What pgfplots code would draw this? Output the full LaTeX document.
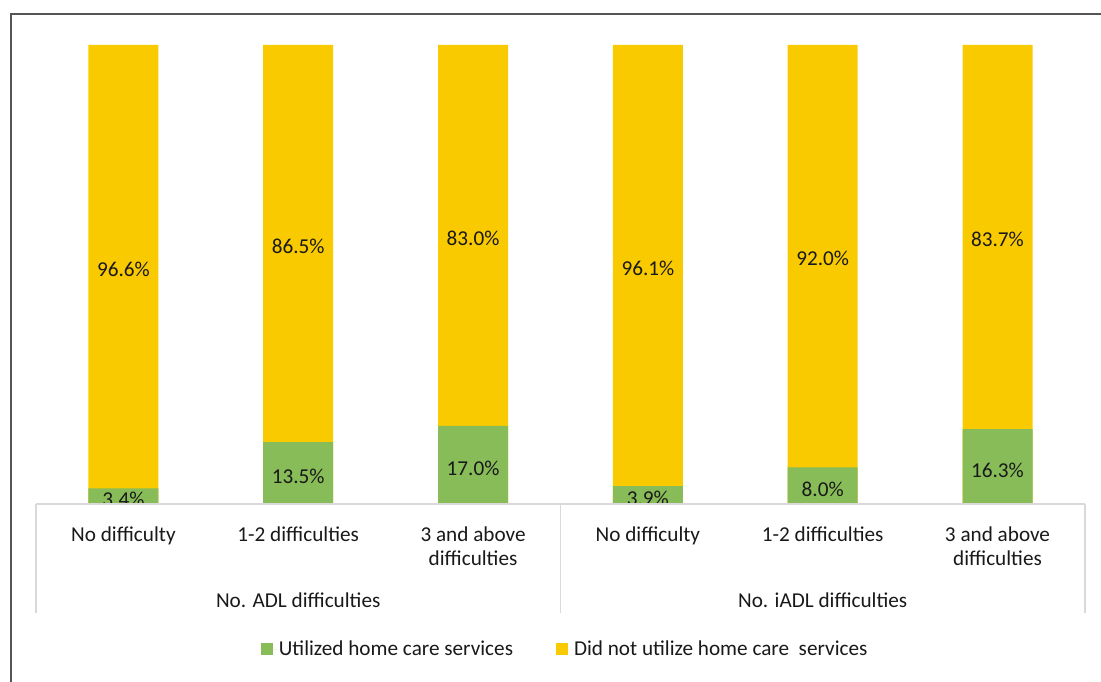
\documentclass[border=0pt]{standalone}
\usepackage{pgfplots}
\pgfplotsset{compat=1.18}
\usepackage{pgfplotstable}
\usepackage{fontspec}
\setmainfont{Carlito}
\definecolor{cgreen}{RGB}{135,188,89}
\definecolor{cyellow}{RGB}{250,202,0}
\definecolor{ctext}{RGB}{25,25,25}
\definecolor{caxis}{RGB}{217,217,217}
\definecolor{cframe}{RGB}{85,85,85}
\pgfplotstableread{
x u n
0 3.4 96.6
1 13.5 86.5
2 17.0 83.0
3 3.9 96.1
4 8.0 92.0
5 16.3 83.7
}\data
\newcommand{\cfont}{\fontsize{21.2}{24}\selectfont}
\begin{document}
\begin{tikzpicture}
\path[use as bounding box] (0pt,0pt) rectangle (1101pt,681pt);
\begin{axis}[
  at={(36pt,177pt)}, anchor=south west,
  width=1049pt, height=459pt, scale only axis,
  xmin=-0.5, xmax=5.5, ymin=0, ymax=100,
  axis x line*=bottom, axis y line=none,
  x axis line style={draw=none},
  ytick=\empty,
  xtick={0,1,2,3,4,5}, major tick length=0pt,
  xticklabels={No difficulty, 1-2 difficulties, {3 and above\\difficulties}, No difficulty, 1-2 difficulties, {3 and above\\difficulties}},
  xticklabel style={align=center, font=\cfont, text=ctext, anchor=north, yshift=-19pt},
  clip=false,
  legend style={at={(0.504,-0.316)}, anchor=center, draw=none, fill=none,
    legend columns=2, font=\cfont, text=ctext,
    /tikz/every even column/.append style={column sep=40pt}},
  legend cell align=left,
  legend image code/.code={\fill[#1] (0pt,-6pt) rectangle (12pt,6pt); \path (-1pt,0pt) -- (16pt,0pt);},
]
\addplot[ybar, bar width=70pt, bar shift=0pt, fill=cyellow, draw=none, forget plot]
  table[x=x, y expr=\thisrow{u}+\thisrow{n}]{\data};
\addplot[ybar, bar width=70pt, bar shift=0pt, fill=cgreen, draw=none, forget plot]
  table[x=x, y=u]{\data};
\addplot[draw=none, mark=none, forget plot, point meta=explicit symbolic,
  nodes near coords={\pgfplotspointmeta\%},
  nodes near coords style={anchor=center, font=\cfont, text=ctext, yshift=-3.5pt}]
  table[x=x, y expr=\thisrow{u}/2, meta=u]{\data};
\addplot[draw=none, mark=none, forget plot, point meta=explicit symbolic,
  nodes near coords={\pgfplotspointmeta\%},
  nodes near coords style={anchor=center, font=\cfont, text=ctext, yshift=-2.5pt}]
  table[x=x, y expr=\thisrow{u}+\thisrow{n}/2, meta=n]{\data};
\addlegendimage{fill=cgreen, draw=none}
\addlegendentry{Utilized home care services}
\addlegendimage{fill=cyellow, draw=none}
\addlegendentry{Did not utilize home care\ \ services}
\node[font=\cfont, text=ctext, anchor=base] at (axis cs:1,0) [yshift=-103pt] {No. ADL difficulties};
\node[font=\cfont, text=ctext, anchor=base] at (axis cs:4,0) [yshift=-103pt] {No. iADL difficulties};
\end{axis}
\fill[white] (36pt,176pt) rectangle (1085pt,166pt);
\draw[caxis, line width=2pt] (36pt,177pt) -- (1085pt,177pt);
\draw[caxis, line width=1.5pt] (36pt,177pt) -- (36pt,68pt);
\draw[caxis, line width=1.5pt] (560.5pt,177pt) -- (560.5pt,68pt);
\draw[caxis, line width=1.5pt] (1085pt,177pt) -- (1085pt,68pt);
\draw[cframe, line width=1.5pt] (11pt,-20pt) -- (11pt,667pt) -- (1130pt,667pt);
\end{tikzpicture}
\end{document}
